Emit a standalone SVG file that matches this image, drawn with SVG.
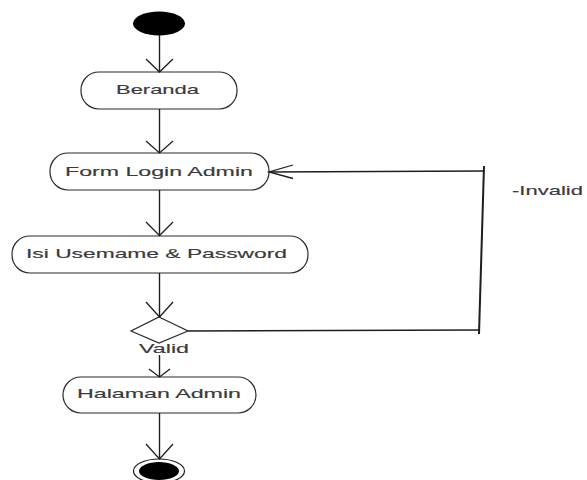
<svg xmlns="http://www.w3.org/2000/svg" width="587" height="480" viewBox="0 0 587 480">
<style>
.node{fill:#fff;stroke:#2a2a2a;stroke-width:1.2}
.lbl{font-family:"Liberation Sans",Arial,sans-serif;font-size:12.5px;fill:#3a3a3a;stroke:#3a3a3a;stroke-width:0.15}
.edge{fill:none;stroke:#1e1e1e;stroke-width:1.4}
.arr{fill:none;stroke:#1e1e1e;stroke-width:1.3}
</style>
<rect width="587" height="480" fill="#fff"/>
<g id="start"><ellipse cx="159" cy="23.5" rx="26" ry="12" fill="#000"/></g>
<g id="beranda"><rect class="node" x="81" y="72" width="156" height="37" rx="18" ry="18"/><text class="lbl" transform="translate(116,94) scale(1.8,1)" textLength="46.1" lengthAdjust="spacingAndGlyphs">Beranda</text></g>
<g id="formlogin"><rect class="node" x="50" y="153" width="219" height="37" rx="18" ry="18"/><text class="lbl" transform="translate(65,176) scale(1.8,1)" textLength="104.4" lengthAdjust="spacingAndGlyphs">Form Login Admin</text></g>
<g id="isi"><rect class="node" x="12" y="236" width="296" height="37" rx="18" ry="18"/><text class="lbl" transform="translate(26,258) scale(1.8,1)" textLength="145" lengthAdjust="spacingAndGlyphs">Isi Usemame &amp; Password</text></g>
<g id="decision"><polygon class="node" points="159,317 188,331 159,343 131,331"/><text class="lbl" transform="translate(139,353) scale(1.8,1)" textLength="27.8" lengthAdjust="spacingAndGlyphs">Valid</text></g>
<g id="halaman"><rect class="node" x="63" y="377" width="193" height="36" rx="18" ry="18"/><text class="lbl" transform="translate(77,398) scale(1.8,1)" textLength="91.1" lengthAdjust="spacingAndGlyphs">Halaman Admin</text></g>
<g id="end"><ellipse cx="159" cy="471" rx="25.5" ry="12" fill="#fff" stroke="#1e1e1e" stroke-width="1.2"/><ellipse cx="159" cy="471" rx="20" ry="9" fill="#000"/></g>
<g id="invalid-label"><text class="lbl" transform="translate(512,195) scale(1.8,1)" textLength="39.4" lengthAdjust="spacingAndGlyphs">-Invalid</text></g>
<g id="connectors">
<line class="edge" x1="159.5" y1="35" x2="159.5" y2="72"/>
<path class="arr" d="M146,59 L159.5,72 L173,59"/>
<line class="edge" x1="159.5" y1="109" x2="159.5" y2="153"/>
<path class="arr" d="M146,141 L159.5,153 L173,141"/>
<line class="edge" x1="159.5" y1="190" x2="159.5" y2="236"/>
<path class="arr" d="M146,222 L159.5,235.5 L173,222"/>
<line class="edge" x1="159.5" y1="273" x2="159.5" y2="317"/>
<path class="arr" d="M146,302 L159.5,317 L173,302"/>
<line class="edge" x1="159.5" y1="355" x2="159.5" y2="377"/>
<path class="arr" d="M149,369 L159.5,377 L170,369"/>
<line class="edge" x1="159.5" y1="413" x2="159.5" y2="459"/>
<path class="arr" d="M146,444 L159.5,459 L173,444"/>
<polyline class="edge" points="188,331 479,330"/>
<line x1="484" y1="166" x2="479" y2="334" stroke="#1e1e1e" stroke-width="2"/>
<polyline class="edge" points="484,171 269,172"/>
<path class="arr" d="M293,165 L269,172 L293,178.5"/>
</g>
</svg>
